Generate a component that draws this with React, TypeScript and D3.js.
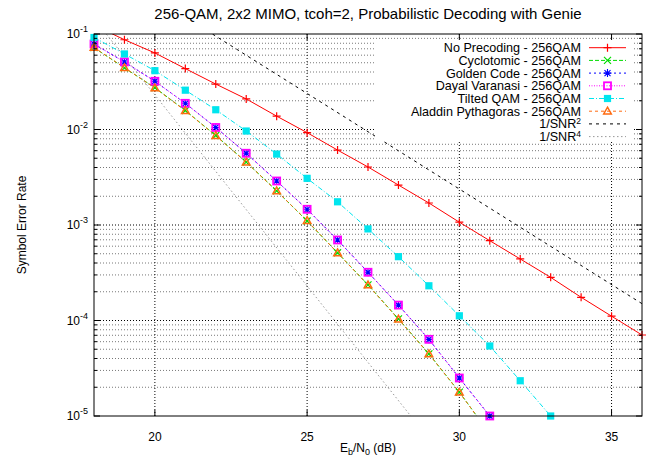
import React from "react";
import * as d3 from "d3";

const TITLE = "256-QAM, 2x2 MIMO, tcoh=2, Probabilistic Decoding with Genie";
const X_TICKS = [20, 25, 30, 35];
const Y_DECADES = [-1, -2, -3, -4, -5];

const DB_NOPRE = [18, 19, 20, 21, 22, 23, 24, 25, 26, 27, 28, 29, 30, 31, 32, 33, 34, 35, 36];
const SER_NOPRE = [0.124, 8.71e-2, 6.33e-2, 4.34e-2, 2.99e-2, 2.09e-2, 1.38e-2, 9.27e-3, 6.09e-3, 4.05e-3, 2.62e-3, 1.7e-3, 1.07e-3, 6.85e-4, 4.41e-4, 2.83e-4, 1.75e-4, 1.11e-4, 7.05e-5];

const DB_CYCLO = [18, 19, 20, 21, 22, 23, 24, 25, 26, 27, 28, 29, 30, 31];
const SER_CYCLO = [7.2e-2, 4.42e-2, 2.74e-2, 1.58e-2, 8.65e-3, 4.56e-3, 2.28e-3, 1.1e-3, 5.12e-4, 2.36e-4, 1.04e-4, 4.48e-5, 1.78e-5, 6.5e-6];

const DB_GOLDEN = [18, 19, 20, 21, 22, 23, 24, 25, 26, 27, 28, 29, 30, 31];
const SER_GOLDEN = [7.86e-2, 5.1e-2, 3.2e-2, 1.88e-2, 1.05e-2, 5.64e-3, 2.89e-3, 1.46e-3, 6.97e-4, 3.2e-4, 1.45e-4, 6.35e-5, 2.5e-5, 1.0e-5];

const DB_DAYAL = [18, 19, 20, 21, 22, 23, 24, 25, 26, 27, 28, 29, 30, 31];
const SER_DAYAL = [7.86e-2, 5.1e-2, 3.2e-2, 1.88e-2, 1.05e-2, 5.64e-3, 2.89e-3, 1.46e-3, 6.97e-4, 3.2e-4, 1.45e-4, 6.35e-5, 2.5e-5, 1.0e-5];

const DB_TILTED = [18, 19, 20, 21, 22, 23, 24, 25, 26, 27, 28, 29, 30, 31, 32, 33];
const SER_TILTED = [9.19e-2, 6.18e-2, 4.13e-2, 2.58e-2, 1.61e-2, 9.64e-3, 5.53e-3, 3.08e-3, 1.75e-3, 9.1e-4, 4.66e-4, 2.31e-4, 1.12e-4, 5.41e-5, 2.34e-5, 1.0e-5];

const DB_ALADDIN = [18, 19, 20, 21, 22, 23, 24, 25, 26, 27, 28, 29, 30, 31];
const SER_ALADDIN = [7.22e-2, 4.44e-2, 2.72e-2, 1.57e-2, 8.6e-3, 4.54e-3, 2.27e-3, 1.11e-3, 5.1e-4, 2.35e-4, 1.03e-4, 4.46e-5, 1.77e-5, 6.5e-6];

const DB_SNR2 = [18, 36];
const SER_SNR2 = [0.6, 1.5e-4];

const DB_SNR4 = [18, 30];
const SER_SNR4 = [0.145, 2.3e-6];

type Marker = "plus" | "cross" | "star" | "osquare" | "fsquare" | "otri" | "none";

const SERIES = [
  { name: "No Precoding - 256QAM", sup: "", db: DB_NOPRE, v: SER_NOPRE, color: "#ff0000", dash: "none", marker: "plus" as Marker },
  { name: "Cyclotomic - 256QAM", sup: "", db: DB_CYCLO, v: SER_CYCLO, color: "#00dd00", dash: "4,2", marker: "cross" as Marker },
  { name: "Golden Code - 256QAM", sup: "", db: DB_GOLDEN, v: SER_GOLDEN, color: "#0000ff", dash: "2,3", marker: "star" as Marker },
  { name: "Dayal Varanasi - 256QAM", sup: "", db: DB_DAYAL, v: SER_DAYAL, color: "#ff00ff", dash: "1,1.5", marker: "osquare" as Marker },
  { name: "Tilted QAM - 256QAM", sup: "", db: DB_TILTED, v: SER_TILTED, color: "#00e5ee", dash: "5,2,1,2", marker: "fsquare" as Marker },
  { name: "Aladdin Pythagoras - 256QAM", sup: "", db: DB_ALADDIN, v: SER_ALADDIN, color: "#ff6a10", dash: "3,3", marker: "otri" as Marker },
  { name: "1/SNR", sup: "2", db: DB_SNR2, v: SER_SNR2, color: "#000000", dash: "3,4", marker: "none" as Marker },
  { name: "1/SNR", sup: "4", db: DB_SNR4, v: SER_SNR4, color: "#999999", dash: "1.5,2.5", marker: "none" as Marker },
];

const W = 655, H = 460;
const L = 94, R = 642, T = 34, B = 416;
const FONT = "'Liberation Sans', Arial, Helvetica, sans-serif";

function MarkerShape({ type, color, x, y }: { type: Marker; color: string; x: number; y: number }) {
  const s = 4;
  switch (type) {
    case "plus":
      return <path d={`M${x - s},${y}H${x + s}M${x},${y - s}V${y + s}`} stroke={color} strokeWidth={1.2} fill="none" />;
    case "cross":
      return <path d={`M${x - 3.5},${y - 3.5}L${x + 3.5},${y + 3.5}M${x - 3.5},${y + 3.5}L${x + 3.5},${y - 3.5}`} stroke={color} strokeWidth={1.2} fill="none" />;
    case "star":
      return <path d={`M${x - s},${y}H${x + s}M${x},${y - s}V${y + s}M${x - 3},${y - 3}L${x + 3},${y + 3}M${x - 3},${y + 3}L${x + 3},${y - 3}`} stroke={color} strokeWidth={1.1} fill="none" />;
    case "osquare":
      return <rect x={x - 3.5} y={y - 3.5} width={7} height={7} stroke={color} strokeWidth={1.8} fill="none" />;
    case "fsquare":
      return <rect x={x - 3.6} y={y - 3.6} width={7.2} height={7.2} fill={color} />;
    case "otri":
      return <path d={`M${x},${y - 4}L${x + 3.8},${y + 2.8}L${x - 3.8},${y + 2.8}Z`} stroke={color} strokeWidth={1.5} fill="none" />;
    default:
      return null;
  }
}

export default function App() {
  const x = d3.scaleLinear().domain([18, 36]).range([L, R]);
  const y = d3.scaleLog().domain([1e-5, 1e-1]).range([B, T]);

  const minorVals: number[] = [];
  for (let e = -5; e < -1; e++) {
    for (let m = 2; m <= 9; m++) minorVals.push(m * Math.pow(10, e));
  }
  const majorVals = Y_DECADES.map((e) => Math.pow(10, e));

  const line = d3
    .line<[number, number]>()
    .x((d) => x(d[0]))
    .y((d) => y(d[1]));

  const keyRowY = (i: number) => 47.7 + i * 12.7;

  return (
    <svg width={W} height={H} style={{ position: "absolute", left: 0, top: 0, background: "#fff" }} fontFamily={FONT}>
      <defs>
        <clipPath id="plotclip">
          <rect x={L} y={T} width={R - L} height={B - T} />
        </clipPath>
      </defs>
      <rect x={0} y={0} width={W} height={H} fill="#fff" />
      {/* grid */}
      <g>
        {minorVals.map((v, i) => (
          <line key={"mn" + i} x1={L} x2={R} y1={y(v)} y2={y(v)} stroke="#555" strokeWidth={0.8} strokeDasharray="1,2" />
        ))}
        {majorVals.slice(1, 4).map((v, i) => (
          <line key={"mj" + i} x1={L} x2={R} y1={y(v)} y2={y(v)} stroke="#000" strokeWidth={1} strokeDasharray="1,2" />
        ))}
        {X_TICKS.map((t) => (
          <line key={"vx" + t} x1={x(t)} x2={x(t)} y1={T} y2={B} stroke="#000" strokeWidth={1} strokeDasharray="1,2" />
        ))}
      </g>
      {/* series */}
      <g clipPath="url(#plotclip)">
        {SERIES.map((s, si) => (
          <path
            key={"l" + si}
            d={line(s.db.map((d, i) => [d, s.v[i]] as [number, number])) || ""}
            fill="none"
            stroke={s.color}
            strokeWidth={1}
            strokeDasharray={s.dash === "none" ? undefined : s.dash}
          />
        ))}
      </g>
      <g>
        {SERIES.map((s, si) =>
          s.db.map((d, i) =>
            s.v[i] <= 0.1001 && s.v[i] >= 0.99e-5 ? (
              <MarkerShape key={"m" + si + "_" + i} type={s.marker} color={s.color} x={x(d)} y={y(s.v[i])} />
            ) : null
          )
        )}
      </g>
      {/* key */}
      <rect x={375} y={40} width={259} height={101} fill="#fff" />
      <g fontSize={12.6}>
        {SERIES.map((s, i) => (
          <g key={"k" + i}>
            <text x={581} y={keyRowY(i) + 4.4} textAnchor="end" fill="#000">
              {s.name}
              {s.sup ? (
                <tspan dy={-4} fontSize={8.5}>
                  {s.sup}
                </tspan>
              ) : null}
            </text>
            <line
              x1={589}
              x2={626}
              y1={keyRowY(i)}
              y2={keyRowY(i)}
              stroke={s.color}
              strokeWidth={1}
              strokeDasharray={s.dash === "none" ? undefined : s.dash}
            />
            <MarkerShape type={s.marker} color={s.color} x={607.5} y={keyRowY(i)} />
          </g>
        ))}
      </g>
      {/* border */}
      <rect x={L} y={T} width={R - L} height={B - T} fill="none" stroke="#000" strokeWidth={1} />
      {/* ticks */}
      <g stroke="#000" strokeWidth={1}>
        {majorVals.map((v, i) => (
          <g key={"ty" + i}>
            <line x1={L} x2={L + 6} y1={y(v)} y2={y(v)} />
            <line x1={R} x2={R - 6} y1={y(v)} y2={y(v)} />
          </g>
        ))}
        {minorVals.map((v, i) => (
          <g key={"tmy" + i}>
            <line x1={L} x2={L + 3} y1={y(v)} y2={y(v)} />
            <line x1={R} x2={R - 3} y1={y(v)} y2={y(v)} />
          </g>
        ))}
        {X_TICKS.map((t) => (
          <g key={"tx" + t}>
            <line x1={x(t)} x2={x(t)} y1={B} y2={B - 6} />
            <line x1={x(t)} x2={x(t)} y1={T} y2={T + 6} />
          </g>
        ))}
      </g>
      {/* tick labels */}
      <g fontSize={12} fill="#000">
        {X_TICKS.map((t) => (
          <text key={"xl" + t} x={x(t)} y={441} textAnchor="middle">
            {t}
          </text>
        ))}
        {Y_DECADES.map((e) => (
          <text key={"yl" + e} x={88} y={y(Math.pow(10, e)) + 4} textAnchor="end">
            10
            <tspan dy={-6} fontSize={9}>
              {String(e)}
            </tspan>
          </text>
        ))}
      </g>
      {/* title and axis labels */}
      <text x={(L + R) / 2} y={19} textAnchor="middle" fontSize={15} fill="#000">
        {TITLE}
      </text>
      <text x={(L + R) / 2} y={452} textAnchor="middle" fontSize={12} fill="#000">
        E<tspan dy={3} fontSize={9}>b</tspan>
        <tspan dy={-3}>/N</tspan>
        <tspan dy={3} fontSize={9}>0</tspan>
        <tspan dy={-3}> (dB)</tspan>
      </text>
      <text transform={`translate(26,${(T + B) / 2}) rotate(-90)`} textAnchor="middle" fontSize={12} fill="#000">
        Symbol Error Rate
      </text>
    </svg>
  );
}
